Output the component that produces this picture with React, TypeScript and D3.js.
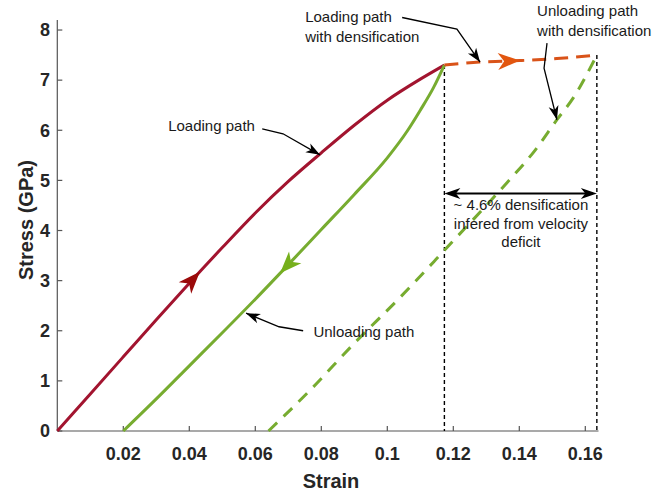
import React from 'react';
import * as d3 from 'd3';

// curves (strain, stress in GPa)
const loadingStrain = [0, 0.01, 0.02, 0.03, 0.04, 0.05, 0.06, 0.07, 0.08, 0.09, 0.1, 0.11, 0.1173];
const loadingStress = [0, 0.74, 1.48, 2.22, 2.95, 3.66, 4.35, 4.98, 5.55, 6.1, 6.6, 7.02, 7.3];

const unloadingStrain = [0.02, 0.03, 0.04, 0.05, 0.06, 0.07, 0.08, 0.09, 0.1, 0.106, 0.11, 0.114, 0.1173];
const unloadingStress = [0, 0.64, 1.3, 1.96, 2.63, 3.32, 4.02, 4.72, 5.45, 5.98, 6.4, 6.85, 7.3];

const densLoadStrain = [0.1173, 0.128, 0.14, 0.1514, 0.1635];
const densLoadStress = [7.3, 7.36, 7.39, 7.43, 7.5];

const densUnloadStrain = [0.064, 0.0767, 0.09, 0.1038, 0.1147, 0.1195, 0.13, 0.1362, 0.145, 0.1514, 0.1563, 0.1635];
const densUnloadStress = [0, 0.82, 1.75, 2.66, 3.42, 3.76, 4.5, 4.95, 5.62, 6.21, 6.64, 7.5];

const xTicks = [0.02, 0.04, 0.06, 0.08, 0.1, 0.12, 0.14, 0.16];
const yTicks = [0, 1, 2, 3, 4, 5, 6, 7, 8];

// strain limits of the densification region
const densStart = 0.1173;
const densEnd = 0.1635;

const W = 665;
const H = 496;

const x = d3.scaleLinear().domain([0, 0.164]).range([57.3, 598.5]);
const y = d3.scaleLinear().domain([0, 8.2]).range([431, 20]);

const RED = '#a2142f';
const GREEN = '#77ac30';
const ORANGE = '#d95319';

const series = [
  { xs: loadingStrain, ys: loadingStress, color: RED, dash: null },
  { xs: unloadingStrain, ys: unloadingStress, color: GREEN, dash: null },
  { xs: densLoadStrain, ys: densLoadStress, color: ORANGE, dash: '14 8' },
  { xs: densUnloadStrain, ys: densUnloadStress, color: GREEN, dash: '12 9' },
];

// direction arrows sitting on the curves
const curveArrows = [
  { s: 0, at: 0.0432, dir: 1, color: '#9b0a0a' },
  { s: 1, at: 0.0675, dir: -1, color: '#76b01c' },
  { s: 2, at: 0.1402, dir: 1, color: '#e2560f' },
];

// labels with pointer lines (data coordinates)
const notes = [
  { lines: ['Loading path'], at: [0.0336, 5.99], anchor: 'start', path: [[0.0621, 6.03], [0.0684, 5.93], [0.0796, 5.51]] },
  { lines: ['Unloading path'], at: [0.0776, 1.88], anchor: 'start', path: [[0.0745, 2.0], [0.0672, 2.08], [0.0572, 2.35]] },
  { lines: ['Loading path', 'with densification'], at: [0.0751, 8.16], anchor: 'start', path: [[0.1045, 8.25], [0.1211, 8.02], [0.1281, 7.36]] },
  { lines: ['Unloading path', 'with densification'], at: [0.1454, 8.27], anchor: 'start', path: [[0.1484, 7.74], [0.1475, 7.24], [0.1514, 6.21]] },
];

const densLines = ['~ 4.6% densification', 'infered from velocity', 'deficit'];
const densArrowStress = 4.74;
const densTextAt = [0.1405, 4.4];

const font = 'Arial, "Liberation Sans", Helvetica, sans-serif';

function interp(xs: number[], ys: number[], v: number) {
  const i = Math.max(1, Math.min(xs.length - 1, d3.bisectLeft(xs, v)));
  const t = (v - xs[i - 1]) / (xs[i] - xs[i - 1]);
  return ys[i - 1] + t * (ys[i] - ys[i - 1]);
}

function head(tx: number, ty: number, fx: number, fy: number, L: number, Wd: number, fill: string, key: string) {
  const ang = (Math.atan2(ty - fy, tx - fx) * 180) / Math.PI;
  return (
    <path
      key={key}
      d={`M0,0 L${-L},${-Wd / 2} L${-0.72 * L},0 L${-L},${Wd / 2} Z`}
      transform={`translate(${tx},${ty}) rotate(${ang})`}
      fill={fill}
    />
  );
}

export default function App() {
  const line = d3.line<number>().curve(d3.curveMonotoneX);
  const [x0, x1] = x.range();
  const [y0, y1] = y.range();

  return (
    <svg width={W} height={H} style={{ position: 'absolute', left: 0, top: 0, background: '#fff' }} fontFamily={font}>
      {/* axes */}
      <line x1={x0} x2={x1} y1={y0} y2={y0} stroke="#555" strokeWidth={1.2} />
      <line x1={x0} x2={x0} y1={y0} y2={y1} stroke="#555" strokeWidth={1.2} />
      {xTicks.map((t) => (
        <g key={'x' + t}>
          <line x1={x(t)} x2={x(t)} y1={y0} y2={y0 - 5} stroke="#555" strokeWidth={1.2} />
          <text x={x(t)} y={460} textAnchor="middle" fontSize={18} fontWeight="bold" fill="#262626">
            {String(t)}
          </text>
        </g>
      ))}
      {yTicks.map((t) => (
        <g key={'y' + t}>
          <line x1={x0} x2={x0 + 5} y1={y(t)} y2={y(t)} stroke="#555" strokeWidth={1.2} />
          <text x={50} y={y(t) + 6.3} textAnchor="end" fontSize={18} fontWeight="bold" fill="#262626">
            {t}
          </text>
        </g>
      ))}
      <text x={331} y={488} textAnchor="middle" fontSize={20} fontWeight="bold" fill="#262626">Strain</text>
      <text transform="translate(33,220) rotate(-90)" textAnchor="middle" fontSize={20} fontWeight="bold" fill="#262626">
        Stress (GPa)
      </text>

      {/* densification limits */}
      {[[densStart, 7.3], [densEnd, 7.5]].map(([s, top]) => (
        <line key={'v' + s} x1={x(s)} x2={x(s)} y1={y(top)} y2={y0} stroke="#000" strokeWidth={1.4} strokeDasharray="4 3" />
      ))}

      {/* curves */}
      {series.map((sr, i) => (
        <path
          key={'s' + i}
          d={line.x((_, j) => x(sr.xs[j])).y((v) => y(v))(sr.ys) || ''}
          fill="none"
          stroke={sr.color}
          strokeWidth={3}
          strokeDasharray={sr.dash || undefined}
        />
      ))}
      {curveArrows.map((a, i) => {
        const sr = series[a.s];
        const back = a.at - a.dir * 0.004;
        return head(x(a.at), y(interp(sr.xs, sr.ys, a.at)), x(back), y(interp(sr.xs, sr.ys, back)), 22, 17, a.color, 'ca' + i);
      })}

      {/* pointer notes */}
      {notes.map((n, i) => {
        const pts = n.path.map(([a, b]) => [x(a), y(b)] as [number, number]);
        const last = pts[pts.length - 1];
        const prev = pts[pts.length - 2];
        return (
          <g key={'n' + i}>
            {n.lines.map((l, k) => (
              <text key={k} x={x(n.at[0])} y={y(n.at[1]) + k * 19.5} textAnchor={n.anchor as any} fontSize={15} fill="#1a1a1a">
                {l}
              </text>
            ))}
            <polyline points={pts.map((p) => p.join(',')).join(' ')} fill="none" stroke="#000" strokeWidth={1.3} />
            {head(last[0], last[1], prev[0], prev[1], 14, 10, '#000', 'h')}
          </g>
        );
      })}

      {/* densification double arrow */}
      <line x1={x(densStart) + 4} x2={x(densEnd) - 4} y1={y(densArrowStress)} y2={y(densArrowStress)} stroke="#000" strokeWidth={2} />
      {head(x(densStart), y(densArrowStress), x(densEnd), y(densArrowStress), 16, 11, '#000', 'dl')}
      {head(x(densEnd), y(densArrowStress), x(densStart), y(densArrowStress), 16, 11, '#000', 'dr')}
      {densLines.map((l, k) => (
        <text key={'d' + k} x={x(densTextAt[0])} y={y(densTextAt[1]) + k * 18.3} textAnchor="middle" fontSize={15} fill="#1a1a1a">
          {l}
        </text>
      ))}
    </svg>
  );
}
